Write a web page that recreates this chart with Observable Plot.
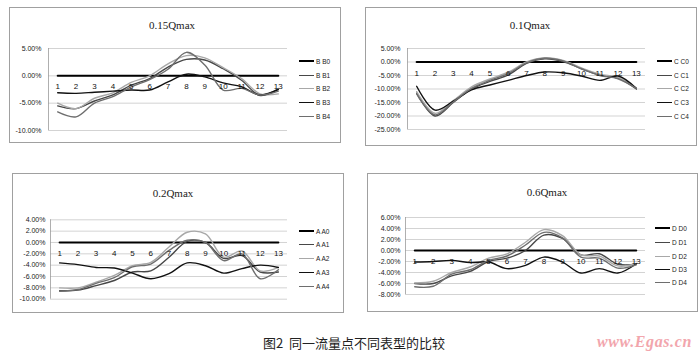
<!DOCTYPE html>
<html><head><meta charset="utf-8">
<script src="https://cdn.jsdelivr.net/npm/d3@7"></script>
<script src="https://cdn.jsdelivr.net/npm/@observablehq/plot@0.6"></script>
<style>
html,body{margin:0;padding:0;background:#fff}
body{width:700px;height:353px;position:relative;overflow:hidden;font-family:"Liberation Sans",Arial,sans-serif}
.frame{position:absolute;border:1px solid #a0a0a0;box-sizing:border-box}
.title{position:absolute;font-family:"Liberation Serif","Times New Roman",serif;font-size:11px;color:#222;transform:translate(-50%,-50%);white-space:nowrap}
.chart{position:absolute}
.leg{position:absolute;font-size:6.5px;color:#222;white-space:pre;display:flex;align-items:center;height:10px}
.leg .sw{display:inline-block;width:15px;margin-right:2px}
.caption{position:absolute;left:263px;top:335px;font-family:"Noto Sans CJK SC",sans-serif;font-size:13px;color:#222;white-space:pre;line-height:16px}
.wm{position:absolute;left:597px;top:333px;font-family:"Liberation Serif",serif;font-style:italic;font-weight:bold;font-size:16px;color:#f2a6ad;white-space:nowrap;letter-spacing:0.6px;line-height:18px}
</style></head><body>
<script>
// ---- data ----
const categories = [1,2,3,4,5,6,7,8,9,10,11,12,13];

const titles = ["0.15Qmax", "0.1Qmax", "0.2Qmax", "0.6Qmax"];

// 0.15Qmax (values in %)
const seriesB = ["B B0","B B1","B B2","B B3","B B4"];
const B0 = [0,0,0,0,0,0,0,0,0,0,0,0,0];
const B1 = [-5.5,-6.0,-4.6,-3.5,-1.7,-0.5,1.6,3.0,2.9,1.3,-0.8,-3.6,-2.4];
const B2 = [-5.0,-6.0,-4.1,-3.1,-1.2,0.0,2.2,3.7,3.3,1.5,-0.5,-3.3,-3.3];
const B3 = [-3.1,-3.2,-3.0,-2.8,-2.6,-2.6,-1.1,0.3,-0.2,-1.3,-2.0,-3.5,-2.5];
const B4 = [-6.6,-7.5,-5.0,-3.8,-2.0,-0.7,1.2,4.3,2.0,-2.6,-2.3,-3.5,-2.8];
const ticksB = [5,0,-5,-10];

// 0.1Qmax
const seriesC = ["C C0","C C1","C C2","C C3","C C4"];
const C0 = [0,0,0,0,0,0,0,0,0,0,0,0,0];
const C1 = [-11.5,-20.0,-15.0,-10.0,-7.2,-4.8,-0.5,1.2,0.2,-2.5,-4.8,-6.0,-10.0];
const C2 = [-11.0,-19.0,-14.3,-9.2,-6.3,-3.8,0.0,1.6,0.6,-2.2,-4.5,-5.8,-9.6];
const C3 = [-9.0,-17.8,-14.5,-10.3,-8.5,-6.8,-5.0,-3.7,-4.0,-5.2,-6.8,-5.2,-9.8];
const C4 = [-11.8,-19.6,-14.8,-9.8,-6.8,-4.3,-0.3,1.4,0.4,-2.5,-5.0,-6.2,-9.8];
const ticksC = [5,0,-5,-10,-15,-20,-25];

// 0.2Qmax
const seriesA = ["A A0","A A1","A A2","A A3","A A4"];
const A0 = [0,0,0,0,0,0,0,0,0,0,0,0,0];
const A1 = [-8.5,-8.4,-7.6,-6.7,-5.2,-5.0,-2.6,0.2,0.0,-2.8,-2.3,-5.2,-5.2];
const A2 = [-8.0,-8.0,-7.0,-5.8,-4.1,-3.5,-0.8,1.8,1.5,-2.6,-1.5,-5.0,-4.4];
const A3 = [-3.6,-3.9,-4.4,-4.5,-5.4,-6.4,-5.5,-3.6,-4.1,-5.4,-4.6,-4.0,-4.4];
const A4 = [-8.6,-8.3,-7.2,-6.2,-4.3,-3.8,-1.4,0.4,0.0,-3.2,-2.0,-6.4,-4.8];
const ticksA = [4,2,0,-2,-4,-6,-8,-10];

// 0.6Qmax
const seriesD = ["D D0","D D1","D D2","D D3","D D4"];
const D0 = [0,0,0,0,0,0,0,0,0,0,0,0,0];
const D1 = [-6.0,-6.0,-4.6,-3.8,-2.0,-1.4,0.0,2.8,2.2,-0.8,-0.6,-2.5,-2.5];
const D2 = [-5.9,-5.6,-4.0,-3.0,-1.4,-0.6,1.5,3.8,2.7,-0.8,-1.0,-2.8,-2.4];
const D3 = [-2.1,-2.0,-1.8,-2.2,-2.1,-3.3,-2.7,-1.2,-2.1,-4.1,-3.3,-4.1,-2.4];
const D4 = [-6.6,-6.5,-4.3,-3.5,-1.8,-1.0,1.0,3.3,2.3,-1.2,-1.4,-3.2,-2.6];
const ticksD = [6,4,2,0,-2,-4,-6,-8];

// ---- styles ----
const lineColors = ["#000","#474747","#a8a8a8","#111","#6e6e6e"];
const lineWidths = [2,1.4,1.4,1.4,1.4];

const panels = [
  {title:titles[0], names:seriesB, values:[B0,B1,B2,B3,B4], ticks:ticksB,
   frame:[9,7,332,136], titlePos:[172,25],
   box:[0,0,350,160], margins:[48,63,48,30], pad:7, legX:299, legY:[61,75,88,102,116]},
  {title:titles[1], names:seriesC, values:[C0,C1,C2,C3,C4], ticks:ticksC,
   frame:[365,7,332,139], titlePos:[530,25],
   box:[350,0,350,160], margins:[57,55,48,31], pad:7, legX:657, legY:[61,75,88,102,116]},
  {title:titles[2], names:seriesA, values:[A0,A1,A2,A3,A4], ticks:ticksA,
   frame:[12,173,332,140], titlePos:[173,193],
   box:[0,160,350,160], margins:[50,63,59.3,21.3], pad:5, legX:299, legY:[231,244,258,272,286]},
  {title:titles[3], names:seriesD, values:[D0,D1,D2,D3,D4], ticks:ticksD,
   frame:[367,173,331,139], titlePos:[547,192],
   box:[350,160,350,160], margins:[55,55,57,26], pad:5, legX:655, legY:[228,242,256,269,282]}
];

function el(cls, css, text) {
  const d = document.createElement("div");
  d.className = cls;
  Object.assign(d.style, css);
  if (text != null) d.textContent = text;
  document.body.appendChild(d);
  return d;
}

for (const p of panels) {
  el("frame", {left:p.frame[0]+"px", top:p.frame[1]+"px", width:p.frame[2]+"px", height:p.frame[3]+"px"});
  el("title", {left:p.titlePos[0]+"px", top:p.titlePos[1]+"px"}, p.title);

  const [mL,mR,mT,mB] = p.margins;
  const lineMarks = p.values.map((vals, i) =>
    Plot.line(categories, {
      x: d => d, y: (d, j) => vals[j],
      curve: "catmull-rom",
      stroke: lineColors[i], strokeWidth: lineWidths[i]
    })
  );
  const chart = Plot.plot({
    width: p.box[2], height: p.box[3],
    marginLeft: mL, marginRight: mR, marginTop: mT, marginBottom: mB,
    x: {type: "linear", domain: [0.5, 13.5], axis: null},
    y: {domain: [p.ticks[p.ticks.length-1], p.ticks[0]], axis: null},
    style: {background: "transparent", fontFamily: "'Liberation Sans', Arial, sans-serif", overflow: "visible"},
    marks: [
      Plot.ruleY(p.ticks, {stroke: "#c8c8c8", strokeWidth: 0.8}),
      Plot.ruleX([0.5], {stroke: "#9a9a9a", strokeWidth: 0.8}),
      Plot.axisY({ticks: p.ticks, tickSize: 0, tickPadding: p.pad, label: null,
        tickFormat: d => d.toFixed(2) + "%", fontSize: 7, fill: "#222"}),
      ...lineMarks,
      Plot.text(categories, {x: d => d, y: () => 0, dy: 11, text: d => String(d),
        fontSize: 8, fill: "#111"})
    ]
  });
  const wrap = el("chart", {left:p.box[0]+"px", top:p.box[1]+"px", width:p.box[2]+"px", height:p.box[3]+"px"});
  wrap.appendChild(chart);

  p.names.forEach((name, i) => {
    const row = el("leg", {left:p.legX+"px", top:(p.legY[i]-5)+"px"});
    const sw = document.createElement("span");
    sw.className = "sw";
    sw.style.borderTop = lineWidths[i] + "px solid " + lineColors[i];
    row.appendChild(sw);
    row.appendChild(document.createTextNode(name));
  });
}

el("caption", {}, "图2  同一流量点不同表型的比较");
el("wm", {}, "www.Egas.cn");
</script>
</body></html>
